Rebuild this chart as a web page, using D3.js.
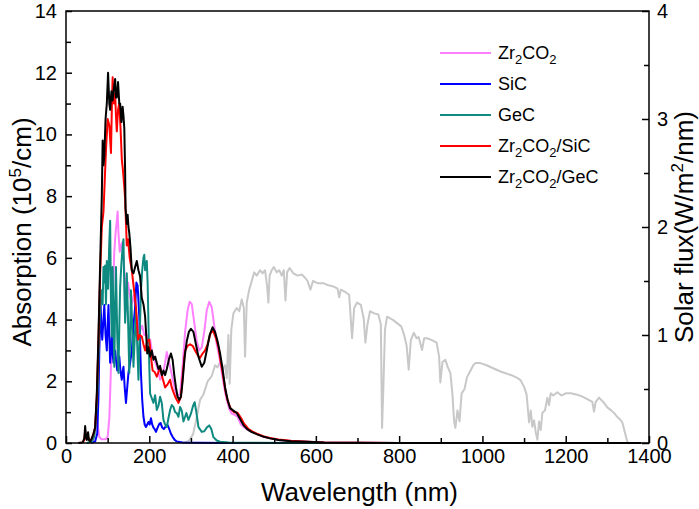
<!DOCTYPE html>
<html>
<head>
<meta charset="utf-8">
<script src="https://cdn.jsdelivr.net/npm/d3@7"></script>
<style>
  body { margin: 0; background: #fff; }
  text { font-family: Arial, "Liberation Sans", sans-serif; fill: #000; }
  .line { fill: none; stroke-width: 2; stroke-linejoin: round; }
</style>
</head>
<body>
<div id="chart"></div>
<script>
// ---- data: [wavelength nm, value] ----
var zrco2 = [[60,0],[66,0.1],[70,0.5],[73,1.1],[76,0.6],[80,0.2],[85,0.12],[95,0.12],[100,0.2],[104,0.8],[107,2.0],[110,3.5],[113,5.0],[116,6.2],[119,6.8],[122,7.2],[124,7.5],[126,6.8],[129,6.2],[132,6.4],[135,6.5],[138,6.0],[141,5.4],[145,5.0],[149,5.2],[153,4.8],[158,4.5],[163,4.8],[167,4.4],[171,3.9],[175,3.6],[178,3.65],[183,3.8],[188,3.5],[194,3.5],[198,3.3],[202,3.35],[206,3.0],[212,2.7],[218,2.47],[222,2.3],[226,2.05],[232,2.2],[238,2.6],[242,2.95],[246,2.7],[250,2.47],[256,2.1],[262,1.7],[268,1.5],[274,1.6],[280,2.5],[286,3.6],[292,4.3],[297,4.58],[302,4.5],[308,3.9],[314,3.3],[320,3.0],[326,3.1],[332,3.6],[338,4.3],[344,4.58],[350,4.4],[356,3.8],[362,3.2],[368,2.8],[374,2.3],[380,1.8],[386,1.4],[392,1.1],[398,0.95],[404,0.92],[412,0.85],[420,0.6],[430,0.48],[440,0.4],[455,0.31],[470,0.22],[490,0.15],[510,0.1],[540,0.06],[580,0.04],[620,0.02],[700,0.01],[800,0],[1380,0]];

var sic = [[60,0],[70,0.05],[75,0.3],[78,1.5],[80,3.0],[83,4.47],[85,3.8],[87,3.35],[90,4.0],[92,4.47],[95,3.5],[98,3.0],[100,3.8],[102,4.47],[104,3.5],[106,2.6],[108,3.0],[110,3.45],[112,2.9],[114,2.6],[116,2.8],[118,3.0],[120,2.7],[123,2.35],[126,2.6],[128,2.8],[131,2.3],[134,2.05],[136,2.3],[138,2.47],[141,1.8],[144,1.3],[147,1.8],[150,2.27],[154,2.6],[158,3.0],[162,3.8],[166,4.4],[169,5.2],[172,5.1],[176,4.1],[178,3.2],[180,2.27],[183,1.4],[186,0.85],[189,0.6],[192,0.52],[195,0.6],[198,0.68],[201,0.6],[204,0.8],[207,0.6],[210,0.5],[213,0.45],[216,0.36],[220,0.5],[224,0.62],[227,0.65],[231,0.5],[235,0.45],[240,0.55],[244,0.58],[248,0.45],[252,0.3],[256,0.2],[261,0.1],[266,0.05],[280,0.02],[320,0.01],[400,0],[1380,0]];

var gec = [[50,0],[62,0.05],[68,0.2],[72,0.8],[76,1.8],[80,3.77],[83,4.5],[86,4.95],[88,4.5],[90,5.7],[92,5.2],[94,5.75],[96,4.5],[98,5.9],[101,5.0],[104,6.5],[106,7.2],[108,4.5],[110,3.45],[112,5.7],[114,4.0],[116,2.47],[118,4.5],[120,5.7],[123,3.5],[126,2.27],[128,3.8],[130,5.05],[133,5.8],[136,6.35],[138,6.6],[140,5.0],[142,3.9],[144,4.5],[146,5.5],[149,4.0],[152,2.27],[154,3.5],[156,4.95],[159,3.8],[162,2.47],[165,3.4],[168,4.3],[171,3.2],[174,2.05],[177,3.5],[180,4.95],[183,5.6],[186,6.0],[188,6.1],[190,5.6],[194,5.9],[196,5.2],[198,3.9],[200,2.5],[202,1.6],[206,1.45],[210,1.3],[214,1.55],[218,1.07],[222,1.2],[226,1.5],[230,1.3],[234,0.75],[238,0.6],[242,0.52],[246,0.8],[250,1.07],[254,1.23],[258,1.17],[262,1.0],[266,0.97],[270,0.85],[274,1.17],[278,1.05],[282,0.7],[286,0.85],[289,0.97],[294,0.75],[300,0.95],[305,1.2],[309,1.32],[313,1.0],[318,0.52],[326,0.36],[332,0.38],[338,0.5],[344,0.57],[349,0.45],[354,0.19],[362,0.08],[370,0.04],[390,0.02],[450,0.01],[550,0],[1380,0]];

var zrco2Sic = [[30,0],[40,0.02],[44,0.1],[46,0.4],[48,0.15],[52,0.25],[55,0.1],[60,0.1],[65,0.25],[70,0.5],[74,1.5],[78,3.3],[82,5.5],[86,7.0],[90,7.5],[93,8.5],[96,9.5],[100,10.5],[104,10.3],[108,9.4],[110,10.8],[112,11.85],[115,11.0],[118,11.3],[120,10.6],[122,10.1],[125,10.8],[128,11.0],[131,10.2],[134,9.2],[137,8.8],[140,8.3],[142,7.9],[146,6.4],[149,6.6],[153,6.0],[158,5.6],[163,5.0],[168,4.4],[171,3.8],[173,3.35],[177,3.5],[182,3.45],[186,3.2],[190,3.0],[195,3.3],[200,3.35],[204,2.8],[208,2.35],[213,2.3],[218,2.15],[222,2.3],[226,2.43],[232,2.1],[238,1.8],[244,1.9],[250,2.05],[254,1.8],[258,1.65],[264,1.45],[270,1.3],[276,1.5],[281,2.3],[286,3.0],[292,3.15],[298,3.2],[304,3.15],[310,3.0],[316,2.85],[322,2.76],[328,2.9],[334,3.0],[340,3.2],[347,3.55],[353,3.65],[360,3.4],[366,3.1],[372,2.6],[378,2.1],[384,1.6],[390,1.3],[396,1.1],[404,1.0],[412,0.98],[420,0.82],[428,0.62],[437,0.47],[447,0.38],[460,0.29],[475,0.21],[490,0.16],[510,0.11],[540,0.07],[580,0.04],[620,0.02],[700,0.01],[800,0],[1380,0]];

var zrco2Gec = [[30,0],[40,0.02],[44,0.15],[46,0.55],[48,0.2],[50,0.1],[53,0.35],[55,0.1],[58,0.05],[62,0.15],[66,0.3],[70,0.5],[74,1.6],[78,3.5],[82,5.8],[86,8.0],[88,9.8],[90,9.0],[92,9.3],[95,10.5],[98,11.0],[101,12.0],[104,11.0],[106,10.8],[109,11.4],[112,11.1],[115,11.5],[118,11.8],[120,11.2],[122,11.2],[125,11.7],[128,11.0],[130,11.0],[133,10.4],[136,10.9],[138,10.6],[140,10.2],[142,8.8],[143,7.6],[146,7.1],[148,7.4],[150,7.0],[152,6.8],[155,6.3],[158,5.6],[162,5.5],[166,5.7],[170,5.9],[174,5.6],[178,5.4],[182,4.7],[186,4.5],[190,4.1],[193,3.4],[195,2.9],[198,3.1],[202,2.8],[206,3.0],[210,2.7],[214,2.8],[218,2.6],[222,2.4],[226,2.5],[230,2.2],[234,2.35],[238,2.2],[242,2.4],[247,2.7],[252,2.9],[256,2.7],[260,2.2],[264,1.8],[268,1.5],[272,1.4],[276,1.5],[280,2.0],[285,2.8],[290,3.3],[295,3.6],[300,3.7],[306,3.6],[312,3.2],[318,2.8],[326,2.47],[332,2.6],[338,3.0],[345,3.5],[352,3.75],[358,3.6],[364,3.3],[370,2.9],[376,2.4],[382,1.8],[388,1.4],[394,1.13],[402,1.05],[410,0.97],[418,0.78],[426,0.58],[435,0.45],[445,0.36],[459,0.28],[475,0.2],[490,0.15],[510,0.1],[540,0.06],[580,0.04],[620,0.02],[700,0.01],[800,0],[1380,0]];

// solar flux, right axis (W/m2/nm)
var solar = [[280,0],[295,0.02],[305,0.08],[312,0.2],[322,0.4],[330,0.45],[340,0.57],[350,0.62],[358,0.72],[364,0.7],[370,0.75],[376,0.68],[382,0.72],[386,0.6],[390,1.0],[393,0.55],[397,1.05],[402,1.2],[410,1.25],[416,1.22],[422,1.33],[427,1.25],[430,0.8],[434,1.3],[440,1.42],[446,1.5],[452,1.58],[458,1.55],[466,1.6],[472,1.57],[478,1.6],[483,1.45],[486,1.3],[489,1.55],[494,1.6],[499,1.63],[506,1.58],[512,1.6],[518,1.55],[523,1.6],[527,1.32],[531,1.58],[537,1.62],[546,1.57],[556,1.55],[566,1.56],[574,1.53],[580,1.5],[587,1.42],[593,1.5],[604,1.48],[618,1.48],[630,1.46],[642,1.45],[652,1.43],[656,1.35],[660,1.42],[670,1.4],[680,1.37],[687,0.97],[692,1.25],[699,1.3],[708,1.28],[715,1.15],[719,0.93],[724,1.1],[730,1.22],[740,1.2],[750,1.19],[756,1.1],[759,0.14],[762,0.5],[766,1.05],[771,1.17],[785,1.14],[795,1.11],[805,1.08],[812,1.0],[818,0.9],[823,0.68],[828,0.95],[835,1.02],[842,0.97],[847,0.98],[855,0.86],[860,0.97],[867,0.97],[880,0.95],[890,0.93],[896,0.8],[899,0.56],[904,0.75],[911,0.77],[917,0.7],[923,0.65],[928,0.45],[932,0.2],[935,0.14],[940,0.3],[945,0.2],[950,0.46],[957,0.5],[963,0.61],[970,0.66],[978,0.72],[983,0.74],[995,0.74],[1010,0.72],[1027,0.69],[1045,0.66],[1068,0.63],[1085,0.6],[1092,0.58],[1100,0.52],[1106,0.45],[1112,0.19],[1116,0.3],[1120,0.15],[1124,0.21],[1128,0.1],[1132,0.03],[1136,0.2],[1140,0.12],[1144,0.28],[1150,0.3],[1156,0.42],[1160,0.35],[1164,0.46],[1170,0.44],[1180,0.47],[1190,0.44],[1200,0.46],[1212,0.46],[1225,0.45],[1240,0.43],[1255,0.4],[1264,0.38],[1268,0.29],[1272,0.38],[1280,0.42],[1290,0.38],[1300,0.33],[1310,0.3],[1318,0.27],[1324,0.24],[1330,0.22],[1336,0.19],[1342,0.1],[1348,0.01],[1352,0]];

var xTicks = [0, 200, 400, 600, 800, 1000, 1200, 1400];
var yTicks = [0, 2, 4, 6, 8, 10, 12, 14];
var y2Ticks = [0, 1, 2, 3, 4];

// legend: label parts as [text, isSubscript]
var legendNames = [
  [["Zr",0],["2",1],["CO",0],["2",1]],
  [["SiC",0]],
  [["GeC",0]],
  [["Zr",0],["2",1],["CO",0],["2",1],["/SiC",0]],
  [["Zr",0],["2",1],["CO",0],["2",1],["/GeC",0]]
];
var legendColors = ["#ff80ff", "#0000ff", "#0f8a80", "#ff0000", "#000000"];

var margin = {top: 11, right: 50, bottom: 66, left: 66},
    width = 699 - margin.left - margin.right,
    height = 509 - margin.top - margin.bottom;

var svg = d3.select("#chart").append("svg")
    .attr("width", 699)
    .attr("height", 509)
  .append("g")
    .attr("transform", "translate(" + margin.left + "," + margin.top + ")");

var x = d3.scaleLinear().domain([0, 1400]).range([0, width]);
var y = d3.scaleLinear().domain([0, 14]).range([height, 0]);
var y2 = d3.scaleLinear().domain([0, 4]).range([height, 0]);

var line = d3.line()
    .x(function(d) { return x(d[0]); })
    .y(function(d) { return y(d[1]); });
var line2 = d3.line()
    .x(function(d) { return x(d[0]); })
    .y(function(d) { return y2(d[1]); });

// curves, grey spectrum at the back
svg.append("path").datum(solar).attr("class", "line")
    .attr("stroke", "#c8c8c8").attr("d", line2);

var series = [zrco2, sic, gec, zrco2Sic, zrco2Gec];
series.forEach(function(s, i) {
  svg.append("path").datum(s).attr("class", "line")
      .attr("stroke", legendColors[i]).attr("d", line);
});

// axes, ticks pointing inwards
function styleAxis(g) {
  g.select(".domain").remove();
  g.selectAll("line").attr("stroke", "#000").attr("stroke-width", 1.5);
  g.selectAll("text").style("font-size", "20px");
}

svg.append("g")
    .attr("transform", "translate(0," + height + ")")
    .call(d3.axisBottom(x).tickValues(xTicks).tickSizeInner(-7).tickSizeOuter(0).tickPadding(6).tickFormat(d3.format("d")))
    .call(styleAxis);
svg.append("g")
    .attr("transform", "translate(0," + height + ")")
    .call(d3.axisBottom(x).tickValues(d3.range(100, 1400, 200)).tickSizeInner(-5).tickSizeOuter(0).tickFormat(""))
    .call(styleAxis);

svg.append("g")
    .call(d3.axisLeft(y).tickValues(yTicks).tickSizeInner(-6).tickSizeOuter(0).tickPadding(9).tickFormat(d3.format("d")))
    .call(styleAxis);
svg.append("g")
    .call(d3.axisLeft(y).tickValues(d3.range(1, 14, 2)).tickSizeInner(-5).tickSizeOuter(0).tickFormat(""))
    .call(styleAxis);

svg.append("g")
    .attr("transform", "translate(" + width + ",0)")
    .call(d3.axisRight(y2).tickValues(y2Ticks).tickSizeInner(-7).tickSizeOuter(0).tickPadding(8).tickFormat(d3.format("d")))
    .call(styleAxis);
svg.append("g")
    .attr("transform", "translate(" + width + ",0)")
    .call(d3.axisRight(y2).tickValues([0.5, 1.5, 2.5, 3.5]).tickSizeInner(-5).tickSizeOuter(0).tickFormat(""))
    .call(styleAxis);

// frame
svg.append("rect")
    .attr("width", width).attr("height", height)
    .attr("fill", "none").attr("stroke", "#000").attr("stroke-width", 1.5);

// axis titles
svg.append("text")
    .attr("x", width / 2 + 2)
    .attr("y", height + 58)
    .style("text-anchor", "middle")
    .style("font-size", "26px")
    .text("Wavelength (nm)");

var ylab = svg.append("text")
    .attr("transform", "translate(" + (-35) + "," + (height / 2 + 5) + ") rotate(-90)")
    .style("text-anchor", "middle")
    .style("font-size", "26px");
ylab.append("tspan").text("Absorption (10");
ylab.append("tspan").attr("dy", -10).style("font-size", "17px").text("5");
ylab.append("tspan").attr("dy", 10).text("/cm)");

var y2lab = svg.append("text")
    .attr("transform", "translate(" + (width + 44) + "," + (height / 2) + ") rotate(-90)")
    .style("text-anchor", "middle")
    .style("font-size", "26px");
y2lab.append("tspan").text("Solar flux(W/m");
y2lab.append("tspan").attr("dy", -10).style("font-size", "17px").text("2");
y2lab.append("tspan").attr("dy", 10).text("/nm)");

// legend
var legend = svg.append("g").attr("transform", "translate(374,42)");
legendNames.forEach(function(parts, i) {
  var row = legend.append("g").attr("transform", "translate(0," + (i * 31) + ")");
  row.append("line")
      .attr("x1", 0).attr("x2", 51)
      .attr("stroke", legendColors[i]).attr("stroke-width", 2);
  var t = row.append("text").attr("x", 58).attr("y", 6).style("font-size", "18px");
  var shifted = 0;
  parts.forEach(function(p) {
    var dy = (p[1] ? 5 : 0) - shifted;
    shifted += dy;
    t.append("tspan").attr("dy", dy)
        .style("font-size", p[1] ? "13px" : "18px")
        .text(p[0]);
  });
});
</script>
</body>
</html>
